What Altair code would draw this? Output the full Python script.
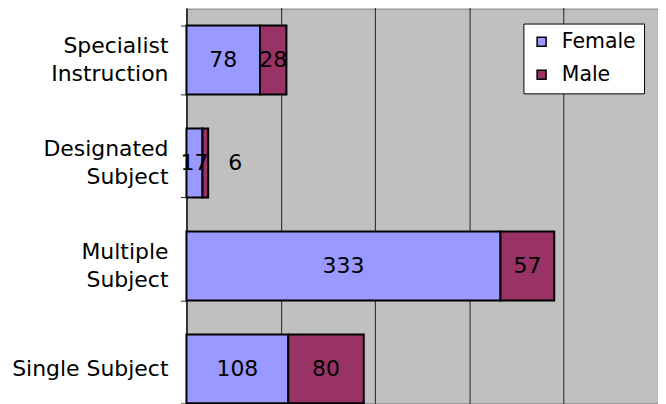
import altair as alt
import pandas as pd

categories = ["Specialist\nInstruction", "Designated\nSubject", "Multiple\nSubject", "Single Subject"]
female = [78, 17, 333, 108]
male = [28, 6, 57, 80]
genders = ["Female", "Male"]
colors = ["#9999FF", "#993366"]
x_ticks = [0, 100, 200, 300, 400, 500]

rows = []
for c, f, m in zip(categories, female, male):
    rows.append({"category": c, "gender": "Female", "value": f})
    rows.append({"category": c, "gender": "Male", "value": m})
df = pd.DataFrame(rows)

# category label lines (from the category names)
lab_rows = []
for c in categories:
    parts = c.split("\n")
    if len(parts) == 1:
        lab_rows.append({"category": c, "line": parts[0], "pos": "single"})
    else:
        lab_rows.append({"category": c, "line": parts[0], "pos": "top"})
        lab_rows.append({"category": c, "line": parts[1], "pos": "bottom"})
lab_df = pd.DataFrame(lab_rows)

FONT = "DejaVu Sans"

yscale = alt.Scale(domain=categories, range=[0, 413], paddingInner=0.33, paddingOuter=0.165)

base = alt.Chart(df).transform_stack(
    stack="value", groupby=["category"], as_=["x0", "x1"],
    sort=[alt.SortField("gender", order="ascending")]
).transform_calculate(mid="(datum.x0 + datum.x1) / 2")

yenc = alt.Y(
    "category:N", sort=categories, title=None, scale=yscale,
    axis=alt.Axis(
        labels=False, tickBand="extent", tickSize=6, tickColor="#333333",
        domainColor="black", domainWidth=1,
    ),
)

xenc = alt.X(
    "x0:Q", title=None,
    scale=alt.Scale(domain=[0, 500], nice=False),
    axis=alt.Axis(values=x_ticks, labels=False, ticks=False, domain=False,
                  grid=True, gridColor="#222222", gridWidth=1),
)

bars = base.mark_bar(stroke="black", strokeWidth=2).encode(
    y=yenc,
    x=xenc,
    x2="x1:Q",
    color=alt.Color(
        "gender:N", scale=alt.Scale(domain=genders, range=colors), title=None,
        legend=alt.Legend(
            orient="none", legendX=338, legendY=15,
            fillColor="white", strokeColor="black", padding=8,
            symbolType="square", symbolSize=81, symbolStrokeColor="black",
            symbolStrokeWidth=1.5, labelFontSize=20.5, labelFont=FONT,
            labelColor="black", rowPadding=12, labelOffset=10, cornerRadius=0,
        ),
    ),
)

labels = base.transform_filter("datum.value >= 10").mark_text(
    fontSize=22, font=FONT, color="black", baseline="middle", align="center"
).encode(
    y=alt.Y("category:N", sort=categories, scale=yscale),
    x=alt.X("mid:Q"),
    text="value:Q",
)

small = base.transform_filter("datum.value < 10").mark_text(
    fontSize=22, font=FONT, color="black", baseline="middle", align="center", dx=30
).encode(
    y=alt.Y("category:N", sort=categories, scale=yscale),
    x=alt.X("mid:Q"),
    text="value:Q",
)

def cat_text(pos, dy):
    return alt.Chart(lab_df).transform_filter(f"datum.pos == '{pos}'").mark_text(
        fontSize=22, font=FONT, color="black", baseline="middle", align="right", dy=dy
    ).encode(
        y=alt.Y("category:N", sort=categories, scale=yscale),
        x=alt.value(-18),
        text="line:N",
    )

chart = alt.layer(
    bars, labels, small,
    cat_text("top", -14), cat_text("bottom", 14), cat_text("single", 0),
).properties(
    width=473, height=396,
    autosize=alt.AutoSizeParams(type="none"),
    padding={"left": 179, "top": 0, "right": 0, "bottom": 0},
    background="white",
).configure_view(
    fill="#C0C0C0", stroke="#808080", strokeWidth=1
)

chart.save("out.html", embed_options={"renderer": "svg", "actions": False})
